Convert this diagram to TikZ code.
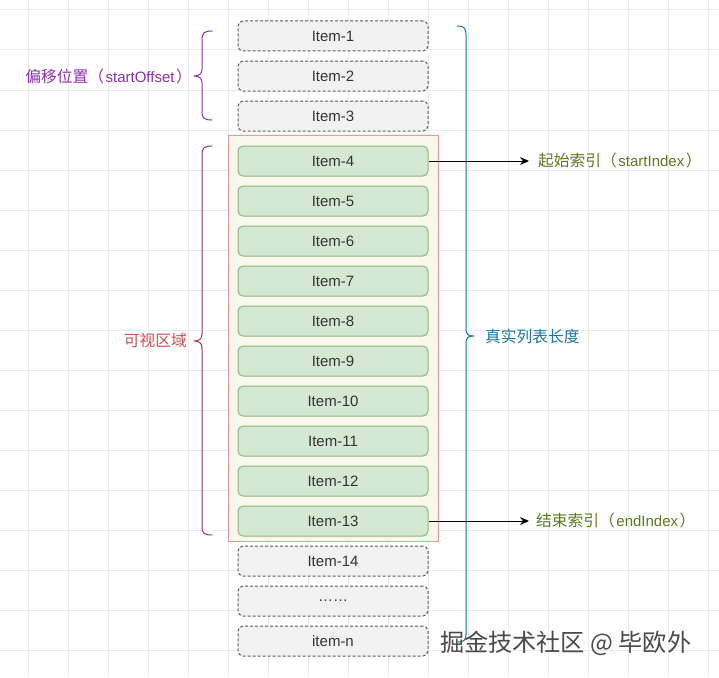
\documentclass[tikz,border=0pt]{standalone}
\usepackage{fontspec}
\setmainfont{Liberation Sans}
\newfontfamily\cjk{Noto Sans CJK SC}[Scale=1.05]
\usetikzlibrary{arrows.meta}
\definecolor{gridc}{HTML}{EBEBEB}
\definecolor{grayfill}{HTML}{F1F1F1}
\definecolor{graydraw}{HTML}{5A5A5A}
\definecolor{greenfill}{HTML}{D5E8D4}
\definecolor{greendraw}{HTML}{8DB878}
\definecolor{vpfill}{HTML}{FAF8EC}
\definecolor{vpdraw}{HTML}{E59A9A}
\definecolor{itemtext}{HTML}{333333}
\definecolor{purplec}{HTML}{8E2FAE}
\definecolor{visbrace}{HTML}{A23A4C}
\definecolor{vistext}{HTML}{D24E55}
\definecolor{bluec}{HTML}{10739E}
\definecolor{bluetext}{HTML}{1B76A8}
\definecolor{olivec}{HTML}{5A7A1C}
\definecolor{wmc}{HTML}{4A4A4A}
\newcommand{\lp}{{\cjk （}\hspace{1.5pt}}
\newcommand{\rp}{\hspace{1.5pt}{\cjk ）}}
\begin{document}
\begin{tikzpicture}[x=1pt,y=-1pt,
  itembase/.style={rectangle, rounded corners=5pt, minimum width=190pt, minimum height=30pt,
    inner sep=0pt, text=itemtext, font=\fontsize{15}{18}\selectfont, line width=1pt},
  itemgray/.style={itembase, fill=grayfill, draw=graydraw, dash pattern=on 3pt off 2pt},
  itemgreen/.style={itembase, fill=greenfill, draw=greendraw},
  vpbox/.style={rectangle, minimum width=210pt, minimum height=406pt, inner sep=0pt,
    fill=vpfill, draw=vpdraw, line width=1pt},
  lbl/.style={inner sep=0pt, font=\fontsize{15}{18}\selectfont},
  bracepath/.style={line width=1pt, line cap=round, line join=round},
  arr/.style={line width=1pt, -{Stealth[length=9pt,width=8pt]}},
  wm/.style={inner sep=0pt, font=\fontsize{23}{26}\selectfont\cjk}
]
\useasboundingbox (0,0) rectangle (719,677);
\fill[white] (0,0) rectangle (719,677);
\foreach \gx in {28,68,...,708} \draw[gridc, line width=1pt] (\gx,0) -- (\gx,677);
\foreach \gy in {10,50,...,650} \draw[gridc, line width=1pt] (0,\gy) -- (719,\gy);

% viewport
\node[vpbox] (vp) at (333,338) {};

% items
\node[itemgray] (i1) at (333,36) {Item-1};
\node[itemgray] (i2) at (333,76) {Item-2};
\node[itemgray] (i3) at (333,116) {Item-3};
\node[itemgreen] (i4) at (333,161) {Item-4};
\node[itemgreen] (i5) at (333,201) {Item-5};
\node[itemgreen] (i6) at (333,241) {Item-6};
\node[itemgreen] (i7) at (333,281) {Item-7};
\node[itemgreen] (i8) at (333,321) {Item-8};
\node[itemgreen] (i9) at (333,361) {Item-9};
\node[itemgreen] (i10) at (333,401) {Item-10};
\node[itemgreen] (i11) at (333,441) {Item-11};
\node[itemgreen] (i12) at (333,481) {Item-12};
\node[itemgreen] (i13) at (333,521) {Item-13};
\node[itemgray] (i14) at (333,561) {Item-14};
\node[itemgray] (idots) at (333,601) {……};
\node[itemgray] (in) at (333,641) {item-n};

% left brace: startOffset
\draw[bracepath, purplec] (212,31) .. controls (204,31) and (202,33) .. (202,40)
  -- (202,69) .. controls (202,74) and (199,76) .. (194,76)
  .. controls (199,76) and (202,78) .. (202,83)
  -- (202,112) .. controls (202,118) and (204,120) .. (212,120);
\node[lbl, text=purplec, anchor=east] (offlbl) at (192,77) {{\cjk 偏移位置}\lp startOffset\rp};

% left brace: visible area
\draw[bracepath, visbrace] (212,146) .. controls (204,146) and (202,148) .. (202,155)
  -- (202,334) .. controls (202,339) and (199,341) .. (194,341)
  .. controls (199,341) and (202,343) .. (202,348)
  -- (202,527) .. controls (202,533) and (204,535) .. (212,535);
\node[lbl, text=vistext, anchor=east] (vislbl) at (187,341) {\cjk 可视区域};

% right brace: real list length
\draw[bracepath, bluec] (457,26) .. controls (464,26) and (466,28) .. (466,35)
  -- (466,329) .. controls (466,334) and (468,336) .. (474,336)
  .. controls (468,336) and (466,338) .. (466,343)
  -- (466,634) .. controls (466,640) and (464,642) .. (458,642);
\node[lbl, text=bluetext, anchor=west] (reallbl) at (485,336) {\cjk 真实列表长度};

% arrows
\coordinate (a4) at (529,161);
\coordinate (a13) at (529,521);
\draw[arr] (i4.east) -- (a4);
\draw[arr] (i13.east) -- (a13);
\node[lbl, text=olivec, anchor=west] (startlbl) at (538,161) {{\cjk 起始索引}\lp startIndex\rp};
\node[lbl, text=olivec, anchor=west] (endlbl) at (536,521) {{\cjk 结束索引}\lp endIndex\rp};

% watermark
\node[wm, text=wmc, anchor=west] (wmark) at (440,643) {掘金技术社区 @ 毕欧外};
\end{tikzpicture}
\end{document}
